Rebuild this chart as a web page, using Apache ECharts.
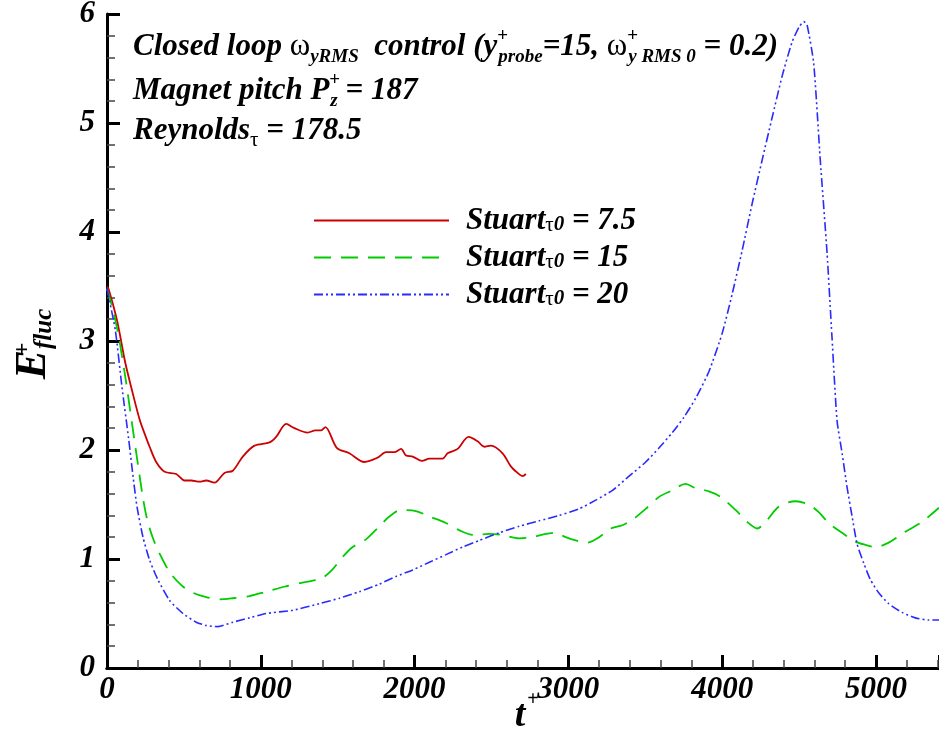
<!DOCTYPE html>
<html lang="en">
<head>
    <meta charset="UTF-8">
    <title>E+ fluc vs t+</title>
    <script src="https://cdn.jsdelivr.net/npm/echarts@6/dist/echarts.min.js"></script>
    <style>
        html, body { margin: 0; padding: 0; background: #fff; }
    </style>
</head>
<body>
<div id="main" style="width: 939px; height: 733px;"></div>
<script>
    // t+ , E+fluc
    var stuart75 = [[0, 3.50], [10, 3.48], [65, 3.19], [119, 2.80], [162, 2.55], [212, 2.28], [250, 2.13], [277, 2.03],
        [320, 1.89], [375, 1.80], [450, 1.78], [504, 1.72], [548, 1.72], [602, 1.71], [645, 1.72], [699, 1.70],
        [764, 1.79], [818, 1.81], [883, 1.94], [959, 2.04], [1057, 2.07], [1100, 2.12], [1165, 2.24], [1219, 2.20],
        [1305, 2.16], [1355, 2.18], [1392, 2.18], [1420, 2.21], [1494, 2.02], [1576, 1.97], [1674, 1.89], [1760, 1.93],
        [1814, 1.98], [1868, 1.98], [1912, 2.01], [1944, 1.95], [1988, 1.94], [2048, 1.90], [2096, 1.92], [2182, 1.92],
        [2215, 1.97], [2280, 2.01], [2351, 2.12], [2410, 2.08], [2453, 2.03], [2496, 2.04], [2572, 1.97], [2626, 1.85],
        [2670, 1.79], [2702, 1.76], [2724, 1.78]];

    var stuart15 = [[0, 3.48], [40, 3.28], [76, 3.04], [119, 2.67], [163, 2.24], [200, 1.88], [235, 1.55], [260, 1.37],
        [299, 1.19], [342, 1.05], [407, 0.88], [483, 0.76], [559, 0.69], [645, 0.65], [732, 0.63], [818, 0.64],
        [927, 0.66], [1035, 0.70], [1165, 0.75], [1295, 0.79], [1392, 0.82], [1457, 0.89], [1533, 1.02], [1598, 1.11],
        [1684, 1.18], [1771, 1.30], [1836, 1.39], [1912, 1.45], [2009, 1.44], [2096, 1.39], [2204, 1.33], [2312, 1.25],
        [2388, 1.22], [2485, 1.23], [2572, 1.22], [2680, 1.19], [2767, 1.20], [2854, 1.23], [2918, 1.24], [2983, 1.20],
        [3048, 1.17], [3124, 1.15], [3200, 1.20], [3276, 1.28], [3351, 1.31], [3416, 1.36], [3503, 1.46], [3590, 1.57],
        [3676, 1.63], [3762, 1.69], [3827, 1.65], [3914, 1.62], [3990, 1.57], [4087, 1.45], [4163, 1.34], [4228, 1.28],
        [4282, 1.34], [4368, 1.48], [4477, 1.53], [4563, 1.50], [4628, 1.43], [4693, 1.33], [4780, 1.24], [4866, 1.16],
        [4931, 1.13], [4996, 1.11], [5083, 1.15], [5191, 1.25], [5299, 1.34], [5410, 1.47]];

    var stuart20 = [[0, 3.48], [54, 3.10], [97, 2.58], [141, 2.10], [170, 1.75], [195, 1.48], [234, 1.20], [277, 0.99],
        [331, 0.81], [407, 0.62], [494, 0.50], [580, 0.42], [645, 0.39], [721, 0.38], [818, 0.42], [927, 0.46],
        [1035, 0.50], [1208, 0.53], [1381, 0.59], [1511, 0.64], [1641, 0.70], [1771, 0.77], [1879, 0.84], [1988, 0.90],
        [2096, 0.97], [2204, 1.04], [2312, 1.11], [2420, 1.17], [2550, 1.24], [2680, 1.30], [2810, 1.35], [2940, 1.40],
        [3070, 1.46], [3178, 1.54], [3287, 1.63], [3395, 1.76], [3503, 1.89], [3590, 2.02], [3676, 2.16], [3751, 2.30],
        [3830, 2.48], [3914, 2.72], [4000, 3.07], [4065, 3.43], [4130, 3.83], [4195, 4.26], [4260, 4.66], [4325, 5.05],
        [4390, 5.43], [4454, 5.74], [4500, 5.88], [4530, 5.93], [4552, 5.90], [4595, 5.55], [4638, 4.66], [4682, 3.81],
        [4714, 3.04], [4747, 2.27], [4780, 1.97], [4812, 1.66], [4845, 1.39], [4877, 1.14], [4921, 0.96], [4964, 0.81],
        [5018, 0.69], [5083, 0.59], [5169, 0.51], [5256, 0.46], [5343, 0.44], [5410, 0.44]];

    var seriesNames = ['7.5', '15', '20'];
    var seriesColors = ['#cc0000', '#00cc00', '#2a2aff'];

    var annotationLines = [
        '{b|Closed loop }{w|ω}{s|yRMS}{b|  control (y}{p|+}{s|probe}{b|=15, }{w|ω}{p|+}{s|y RMS 0}{b| = 0.2)}',
        '{b|Magnet pitch P}{p|+}{s|z}{b| = 187}',
        '{b|Reynolds}{t|τ}{b| = 178.5}'
    ];

    var FONT = 'Liberation Serif';

    var richText = {
        b: {fontFamily: FONT, fontWeight: 'bold', fontStyle: 'italic', fontSize: 31, lineHeight: 40, verticalAlign: 'middle', color: '#000'},
        w: {fontFamily: FONT, fontSize: 31, lineHeight: 40, verticalAlign: 'middle', color: '#000'},
        s: {fontFamily: FONT, fontWeight: 'bold', fontStyle: 'italic', fontSize: 19, lineHeight: 14, verticalAlign: 'bottom', color: '#000'},
        t: {fontFamily: FONT, fontSize: 21, lineHeight: 14, verticalAlign: 'bottom', color: '#000'},
        p: {fontFamily: FONT, fontWeight: 'bold', fontSize: 19, lineHeight: 16, verticalAlign: 'top', width: 1, color: '#000'}
    };

    var legendRich = {
        st: {fontFamily: FONT, fontWeight: 'bold', fontStyle: 'italic', fontSize: 31, lineHeight: 30, verticalAlign: 'middle', padding: [0, 0, 0, 12], color: '#000'},
        b: {fontFamily: FONT, fontWeight: 'bold', fontStyle: 'italic', fontSize: 31, lineHeight: 30, verticalAlign: 'middle', color: '#000'},
        t: {fontFamily: FONT, fontSize: 21, lineHeight: 12, verticalAlign: 'bottom', color: '#000'},
        z: {fontFamily: FONT, fontWeight: 'bold', fontStyle: 'italic', fontSize: 21, lineHeight: 12, verticalAlign: 'bottom', color: '#000'}
    };

    var tickFont = {fontFamily: FONT, fontWeight: 'bold', fontStyle: 'italic', fontSize: 31, color: '#000'};

    var myChart = echarts.init(document.getElementById('main'));

    var option = {
        backgroundColor: '#fff',
        animation: false,
        grid: {left: 107, right: 0, top: 14, bottom: 65, containLabel: false, outerBoundsMode: 'none'},
        legend: {
            orient: 'vertical',
            left: 308,
            top: 200,
            itemWidth: 135,
            itemHeight: 20,
            itemGap: 6,
            data: seriesNames,
            itemStyle: {opacity: 0},
            formatter: function (name) {
                return '{st|Stuart}{t|τ}{z|0}{b| = ' + name + '}';
            },
            textStyle: {rich: legendRich}
        },
        xAxis: [{
            type: 'value',
            min: 0,
            max: 5410,
            interval: 1000,
            axisLine: {onZero: false, lineStyle: {color: '#000', width: 3}},
            axisTick: {inside: true, length: 13, lineStyle: {color: '#000', width: 3}},
            minorTick: {show: true, splitNumber: 5, length: 8, lineStyle: {color: '#444', width: 1.5}},
            axisLabel: Object.assign({
                margin: 6,
                showMaxLabel: false,
                formatter: function (v) { return String(v); }
            }, tickFont),
            splitLine: {show: false}
        }, {
            type: 'value',
            position: 'top',
            min: 0,
            max: 5410,
            axisLine: {show: true, lineStyle: {color: '#000', width: 3}},
            axisTick: {show: false},
            axisLabel: {show: false},
            splitLine: {show: false}
        }],
        yAxis: {
            type: 'value',
            min: 0,
            max: 6,
            interval: 1,
            axisLine: {show: true, onZero: false, lineStyle: {color: '#000', width: 3}},
            axisTick: {show: true, inside: true, length: 13, lineStyle: {color: '#000', width: 3}},
            minorTick: {show: true, splitNumber: 5, length: 8, lineStyle: {color: '#444', width: 1.5}},
            axisLabel: Object.assign({margin: 12}, tickFont),
            splitLine: {show: false}
        },
        graphic: [
            {type: 'text', left: 133, top: 27, style: {text: annotationLines[0], rich: richText}},
            {type: 'text', left: 133, top: 71, style: {text: annotationLines[1], rich: richText}},
            {type: 'text', left: 133, top: 115, style: {text: annotationLines[2], rich: richText}},
            {
                type: 'text', x: 34, y: 344, rotation: Math.PI / 2,
                style: {
                    text: '{e|E}{p|+}{f|fluc}', align: 'center', verticalAlign: 'middle',
                    rich: {
                        e: {fontFamily: FONT, fontWeight: 'bold', fontStyle: 'italic', fontSize: 44, lineHeight: 46, verticalAlign: 'middle', color: '#000'},
                        p: {fontFamily: FONT, fontWeight: 'bold', fontSize: 24, lineHeight: 18, verticalAlign: 'top', width: 1, color: '#000'},
                        f: {fontFamily: FONT, fontWeight: 'bold', fontStyle: 'italic', fontSize: 25, lineHeight: 16, verticalAlign: 'bottom', color: '#000'}
                    }
                }
            },
            {
                type: 'text', x: 520, y: 716,
                style: {
                    text: 't', align: 'center', verticalAlign: 'middle',
                    fontFamily: FONT, fontWeight: 'bold', fontStyle: 'italic', fontSize: 38, fill: '#000'
                }
            },
            {
                type: 'text', x: 533, y: 700,
                style: {
                    text: '+', align: 'center', verticalAlign: 'middle',
                    fontFamily: FONT, fontWeight: 'bold', fontSize: 20, fill: '#000'
                }
            }
        ],
        series: [{
            name: seriesNames[0],
            type: 'line',
            data: stuart75,
            smooth: 0.3,
            showSymbol: false,
            symbol: 'none',
            color: seriesColors[0],
            lineStyle: {color: seriesColors[0], width: 1.8, type: 'solid'}
        }, {
            name: seriesNames[1],
            type: 'line',
            data: stuart15,
            smooth: 0.3,
            showSymbol: false,
            symbol: 'none',
            color: seriesColors[1],
            lineStyle: {color: seriesColors[1], width: 1.8, type: [17, 10]}
        }, {
            name: seriesNames[2],
            type: 'line',
            data: stuart20,
            smooth: 0.2,
            showSymbol: false,
            symbol: 'none',
            color: seriesColors[2],
            lineStyle: {color: seriesColors[2], width: 1.6, type: [9, 3, 2, 3, 2, 3]}
        }]
    };

    myChart.setOption(option);
</script>
</body>
</html>
